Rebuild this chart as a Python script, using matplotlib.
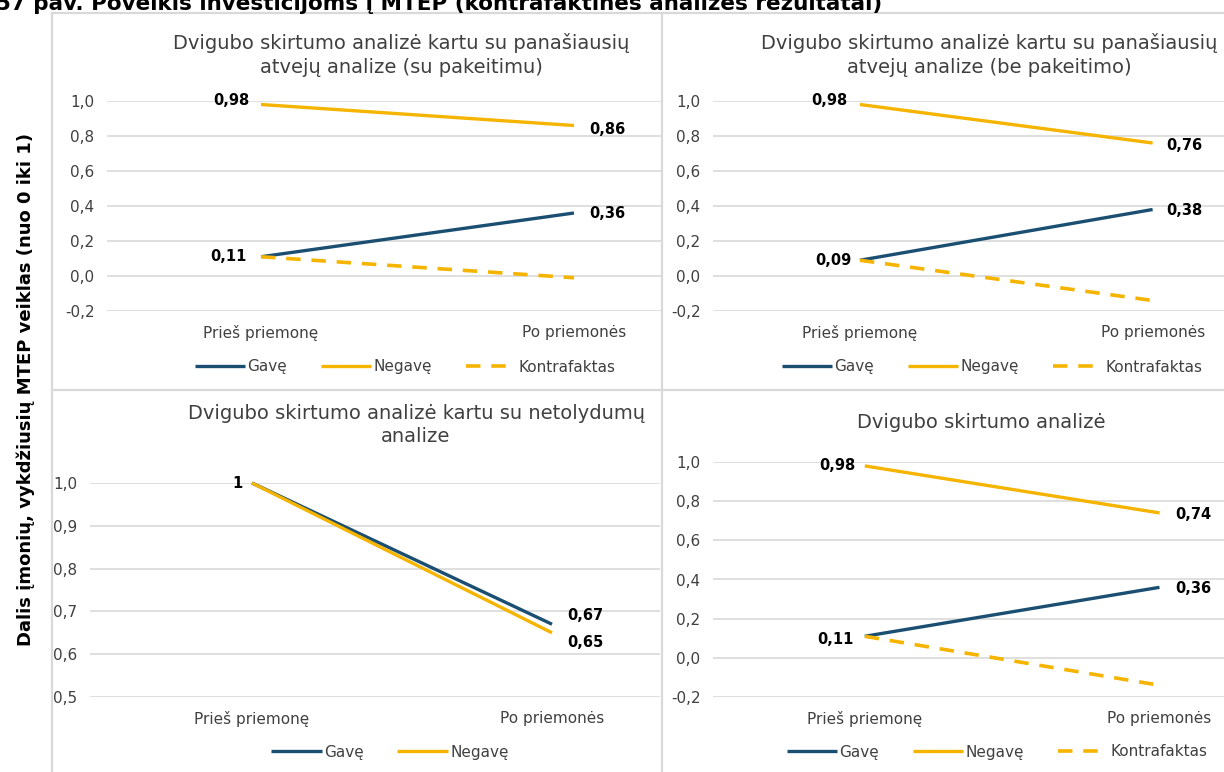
import matplotlib
matplotlib.use("Agg")
import matplotlib.pyplot as plt
from matplotlib.lines import Line2D
from matplotlib.ticker import FuncFormatter, FixedLocator

plt.rcParams['font.family'] = ['DejaVu Sans']

# ---------------- data ----------------
categories = ["Prieš priemonę", "Po priemonės"]
series_names = ["Gavę", "Negavę", "Kontrafaktas"]

p1_title = "Dvigubo skirtumo analizė kartu su panašiausių\natvejų analize (su pakeitimu)"
p1_gave = [0.11, 0.36]
p1_negave = [0.98, 0.86]
p1_kontr = [0.11, -0.01]

p2_title = "Dvigubo skirtumo analizė kartu su panašiausių\natvejų analize (be pakeitimo)"
p2_gave = [0.09, 0.38]
p2_negave = [0.98, 0.76]
p2_kontr = [0.09, -0.14]

p3_title = "Dvigubo skirtumo analizė kartu su netolydumų\nanalize"
p3_gave = [1.0, 0.67]
p3_negave = [1.0, 0.65]

p4_title = "Dvigubo skirtumo analizė"
p4_gave = [0.11, 0.36]
p4_negave = [0.98, 0.74]
p4_kontr = [0.11, -0.14]

yticks_a = [-0.2, 0.0, 0.2, 0.4, 0.6, 0.8, 1.0]
yticks_b = [0.5, 0.6, 0.7, 0.8, 0.9, 1.0]

fig_title = "57 pav. Poveikis investicijoms į MTEP (kontrafaktinės analizės rezultatai)"
y_label = "Dalis įmonių, vykdžiusių MTEP veiklas (nuo 0 iki 1)"

# ---------------- style ----------------
BLUE = "#1B4F72"
GOLD = "#F5B400"
GRID = "#D9D9D9"
TXT = "#404040"

W, H = 1224, 772
fig = plt.figure(figsize=(W / 100, H / 100), dpi=100)


def ax_px(x0, y_top, x1, y_bot):
    return fig.add_axes([x0 / W, 1 - y_bot / H, (x1 - x0) / W, (y_bot - y_top) / H])


def fmt_label(v):
    return f"{v:g}".replace(".", ",")


def style_axes(ax, yticks, xlim):
    ax.set_xlim(*xlim)
    ax.set_ylim(yticks[0], yticks[-1])
    ax.yaxis.set_major_locator(FixedLocator(yticks))
    ax.yaxis.set_major_formatter(FuncFormatter(lambda v, p: f"{v:.1f}".replace(".", ",")))
    ax.set_xticks(range(len(categories)))
    ax.set_xticklabels(categories)
    for s in ax.spines.values():
        s.set_visible(False)
    ax.grid(axis="y", color=GRID, lw=1.2)
    ax.set_axisbelow(True)
    ax.tick_params(axis="both", length=0, labelsize=11, labelcolor=TXT)
    ax.tick_params(axis="y", pad=9)
    ax.tick_params(axis="x", pad=10)
    ax.patch.set_alpha(0)


def draw(ax, gave, negave, kontr=None):
    x = list(range(len(categories)))
    ax.plot(x, gave, color=BLUE, lw=2.4, label=series_names[0], solid_capstyle="butt", clip_on=False)
    ax.plot(x, negave, color=GOLD, lw=2.4, label=series_names[1], solid_capstyle="butt", clip_on=False)
    if kontr is not None:
        ax.plot(x, kontr, color=GOLD, lw=2.6, ls=(0, (4, 3)), label=series_names[2], clip_on=False)


def lab(ax, x, y, v, dx, dy, ha):
    ax.annotate(fmt_label(v), (x, y), xytext=(dx, dy), textcoords="offset points",
                ha=ha, va="center", fontsize=10.5, fontweight="bold", color="black")


def legend(ax, cx, cy, ncol):
    ax.legend(loc="center", bbox_to_anchor=(cx / W, 1 - cy / H), bbox_transform=fig.transFigure,
              ncol=ncol, frameon=False, fontsize=11, handlelength=3.3, handletextpad=0.15,
              columnspacing=2.2, labelcolor=TXT)


# Panel 1
ax1 = ax_px(107, 101, 661, 311)
style_axes(ax1, yticks_a, (-0.492, 1.278))
draw(ax1, p1_gave, p1_negave, p1_kontr)
lab(ax1, 0, p1_negave[0], p1_negave[0], -8, 3, "right")
lab(ax1, 1, p1_negave[1], p1_negave[1], 11, -3, "left")
lab(ax1, 1, p1_gave[1], p1_gave[1], 11, 0, "left")
lab(ax1, 0, p1_gave[0], p1_gave[0], -10, 0, "right")
legend(ax1, 405, 367, 3)
fig.text(401 / W, 1 - 55 / H, p1_title, ha="center", va="center", fontsize=14,
         color=TXT, linespacing=1.3)

# Panel 2
ax2 = ax_px(713, 101, 1234, 311)
style_axes(ax2, yticks_a, (-0.502, 1.278))
draw(ax2, p2_gave, p2_negave, p2_kontr)
lab(ax2, 0, p2_negave[0], p2_negave[0], -9, 3, "right")
lab(ax2, 1, p2_negave[1], p2_negave[1], 10, -2, "left")
lab(ax2, 1, p2_gave[1], p2_gave[1], 10, -1, "left")
lab(ax2, 0, p2_gave[0], p2_gave[0], -6, 0, "right")
legend(ax2, 992, 367, 3)
fig.text(989 / W, 1 - 55 / H, p2_title, ha="center", va="center", fontsize=14,
         color=TXT, linespacing=1.3)

# Panel 3
ax3 = ax_px(90, 483, 660, 697)
style_axes(ax3, yticks_b, (-0.54, 1.36))
draw(ax3, p3_gave, p3_negave)
lab(ax3, 0, p3_gave[0], p3_gave[0], -7, 0, "right")
lab(ax3, 1, p3_gave[1], p3_gave[1], 11, 6, "left")
lab(ax3, 1, p3_negave[1], p3_negave[1], 11, -7, "left")
legend(ax3, 390, 752, 2)
fig.text(416 / W, 1 - 425 / H, p3_title, ha="center", va="center", fontsize=14,
         color=TXT, linespacing=1.3)

# Panel 4
ax4 = ax_px(713, 462, 1242, 697)
style_axes(ax4, yticks_a, (-0.515, 1.28))
draw(ax4, p4_gave, p4_negave, p4_kontr)
lab(ax4, 0, p4_negave[0], p4_negave[0], -7, 0, "right")
lab(ax4, 1, p4_negave[1], p4_negave[1], 11, -1, "left")
lab(ax4, 1, p4_gave[1], p4_gave[1], 11, -1, "left")
lab(ax4, 0, p4_gave[0], p4_gave[0], -8, -2, "right")
legend(ax4, 997, 752, 3)
fig.text(981 / W, 1 - 422 / H, p4_title, ha="center", va="center", fontsize=14, color=TXT)

# Panel borders
def hline(y, x0, x1):
    fig.add_artist(Line2D([x0 / W, x1 / W], [1 - y / H, 1 - y / H], color=GRID, lw=1.6))


def vline(x, y0, y1):
    fig.add_artist(Line2D([x / W, x / W], [1 - y0 / H, 1 - y1 / H], color=GRID, lw=1.6))


hline(13, 52, W)
hline(390, 52, W)
vline(52, 13, H)
vline(662, 13, H)

# Figure title (partly cut at the top, as in the source) and shared y label
fig.text(-4 / W, 1 - 10 / H, fig_title, ha="left", va="baseline", fontsize=15.5,
         fontweight="bold", color="black")
fig.text(26 / W, 1 - 390 / H, y_label, ha="center", va="center", rotation=90,
         fontsize=13, fontweight="bold", color="black")

fig.savefig("out.png", dpi=100)
